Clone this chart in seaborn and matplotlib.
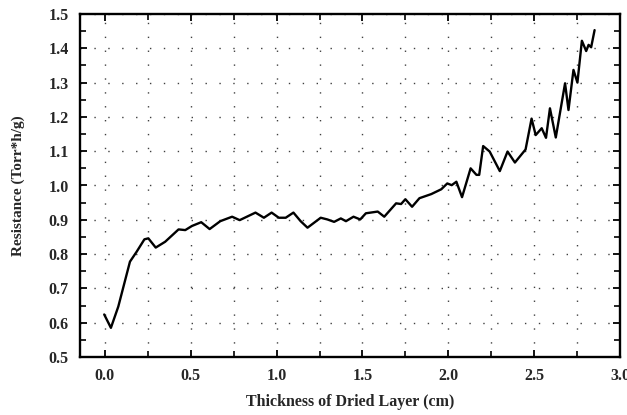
import matplotlib
matplotlib.use("Agg")
import matplotlib.pyplot as plt
from matplotlib.ticker import MultipleLocator, FormatStrFormatter
import seaborn as sns
import pandas as pd

thickness = [-0.004, 0.035, 0.078, 0.146, 0.185, 0.23, 0.253, 0.296, 0.351, 0.429,
             0.468, 0.507, 0.561, 0.61, 0.672, 0.741, 0.785, 0.877, 0.926, 0.971,
             1.013, 1.053, 1.098, 1.14, 1.18, 1.257, 1.296, 1.335, 1.374, 1.404,
             1.448, 1.487, 1.52, 1.589, 1.627, 1.696, 1.725, 1.75, 1.789, 1.832,
             1.901, 1.959, 1.994, 2.02, 2.047, 2.08, 2.13, 2.164, 2.18, 2.203,
             2.241, 2.3, 2.345, 2.388, 2.45, 2.485, 2.509, 2.544, 2.569, 2.592,
             2.626, 2.68, 2.7, 2.729, 2.752, 2.778, 2.803, 2.817, 2.832, 2.852]
resistance = [0.624, 0.585, 0.647, 0.778, 0.807, 0.843, 0.846, 0.819, 0.836, 0.872,
              0.870, 0.882, 0.893, 0.873, 0.896, 0.909, 0.899, 0.921, 0.906, 0.921,
              0.906, 0.906, 0.921, 0.896, 0.877, 0.906, 0.901, 0.894, 0.904, 0.896,
              0.909, 0.901, 0.919, 0.924, 0.909, 0.948, 0.946, 0.960, 0.938, 0.963,
              0.975, 0.989, 1.006, 1.001, 1.011, 0.966, 1.050, 1.031, 1.031, 1.115,
              1.099, 1.042, 1.099, 1.067, 1.105, 1.195, 1.147, 1.167, 1.139, 1.225,
              1.140, 1.298, 1.220, 1.337, 1.300, 1.422, 1.392, 1.410, 1.403, 1.453]

x_ticks = [0.0, 0.5, 1.0, 1.5, 2.0, 2.5, 3.0]
y_ticks = [0.5, 0.6, 0.7, 0.8, 0.9, 1.0, 1.1, 1.2, 1.3, 1.4, 1.5]

sns.set_style("white")
plt.rcParams["font.family"] = ["Liberation Serif", "DejaVu Serif"]

df = pd.DataFrame({"x": thickness, "y": resistance})

fig = plt.figure(figsize=(6.27, 4.15), dpi=100)
ax = fig.add_axes([80 / 627, 58 / 415, 540 / 627, 343 / 415])

sns.lineplot(data=df, x="x", y="y", ax=ax, color="black", linewidth=1.7,
             sort=False, estimator=None)

ax.set_xlim(-0.145, 3.0)
ax.set_ylim(0.5, 1.5)
ax.set_xticks(x_ticks)
ax.set_yticks(y_ticks)
ax.xaxis.set_major_formatter(FormatStrFormatter("%.1f"))
ax.yaxis.set_major_formatter(FormatStrFormatter("%.1f"))
ax.xaxis.set_minor_locator(MultipleLocator(0.25))
ax.yaxis.set_minor_locator(MultipleLocator(0.05))

ax.grid(True, which="major", axis="y", color="0.25", linestyle=(0, (1, 9)), linewidth=1.0)
ax.grid(True, which="both", axis="x", color="0.25", linestyle=(0, (1, 9)), linewidth=1.0)

ax.tick_params(axis="both", which="both", direction="in", top=True, right=True,
               bottom=True, left=True, color="black")
ax.tick_params(axis="both", which="major", length=5, width=1.3, labelsize=11.5)
ax.tick_params(axis="both", which="minor", length=4, width=1.2)
ax.tick_params(axis="x", which="major", pad=8)
ax.tick_params(axis="y", which="major", pad=8)
for lab in ax.get_xticklabels() + ax.get_yticklabels():
    lab.set_fontweight("bold")

for s in ax.spines.values():
    s.set_color("black")
    s.set_linewidth(1.7)
    s.set_visible(True)

ax.set_xlabel("Thickness of Dried Layer (cm)", fontsize=11.5, fontweight="bold", labelpad=7)
ax.set_ylabel("Resistance (Torr*h/g)", fontsize=11, fontweight="bold", labelpad=17)

fig.savefig("out.png", dpi=100)
